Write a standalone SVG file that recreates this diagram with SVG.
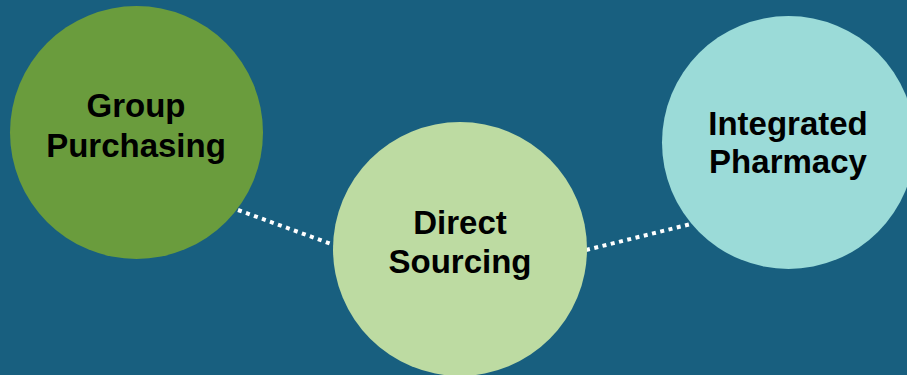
<svg xmlns="http://www.w3.org/2000/svg" width="907" height="375" viewBox="0 0 907 375">
<style>
.lbl{font-family:"Liberation Sans",Arial,sans-serif;font-weight:bold;font-size:33px;fill:#000;text-anchor:middle}
.conn{stroke:#fff;stroke-width:4;stroke-dasharray:4 4.5;fill:none}
</style>
<rect width="907" height="375" fill="#185F7F"/>
<g id="connectors">
<line class="conn" x1="238" y1="210" x2="334" y2="245"/>
<line class="conn" x1="586" y1="250" x2="691" y2="224"/>
</g>
<g id="group-purchasing">
<circle cx="136.5" cy="132.5" r="126.5" fill="#6A9C3D"/>
<text class="lbl" x="136" y="117">Group</text>
<text class="lbl" x="136" y="157">Purchasing</text>
</g>
<g id="direct-sourcing">
<circle cx="460" cy="249" r="127" fill="#BDDBA2"/>
<text class="lbl" x="460" y="234">Direct</text>
<text class="lbl" x="460" y="273">Sourcing</text>
</g>
<g id="integrated-pharmacy">
<circle cx="788.5" cy="142.5" r="126.5" fill="#9BDBD8"/>
<text class="lbl" x="788" y="135">Integrated</text>
<text class="lbl" x="788" y="173">Pharmacy</text>
</g>
</svg>
